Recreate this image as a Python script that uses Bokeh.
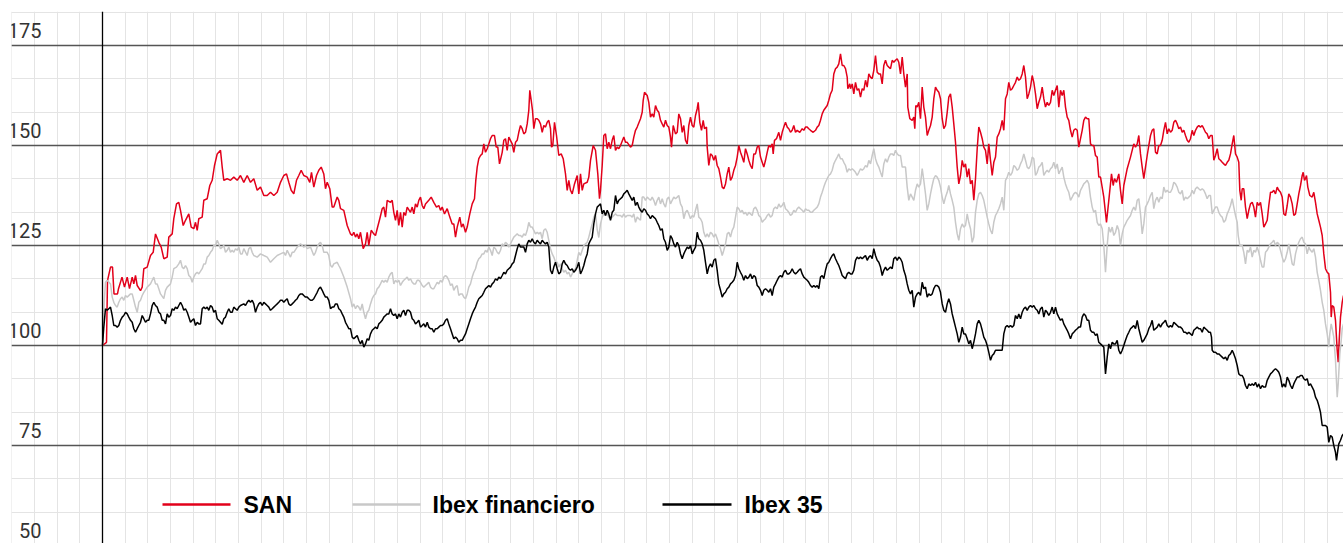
from bokeh.plotting import figure
from bokeh.models import Range1d, Grid, FixedTicker, Span, Label
from bokeh.embed import file_html
from bokeh.resources import INLINE

# ---------------- data (session index since base date, index base 100) ----------------
tick_values = [50, 75, 100, 125, 150, 175]
tick_labels = ["50", "75", "100", "125", "150", "175"]
series_names = ["SAN", "Ibex financiero", "Ibex 35"]
series_colors = ["#e2001a", "#c8c8c8", "#000000"]

san = [
(0,100),(4,100.8),(5,116.2),(8,119.6),(10,119.6),(11.5,112.9),(15,112.9),(16,114.2),(19.5,117.1),(22,114.6),(24.7,117.1),(27,114.2),(29.7,117.1),(31.3,115.4),(33,117.5),(34.7,115),(38,113.7),(39.7,114.6),(41.3,119.2),(44.7,119.6),(48,122.5),(50.7,123.3),(53,127.9),(56.3,125.8),(58.7,124.6),(61.3,121.7),(64.7,122.1),(66.3,127.1),(69.7,127.9),(71.3,131.7),(74,135.4),(76.3,135.8),(78,133.8),(80.7,130),(83,131.3),(86.3,132.9),(88.7,129.6),(91.3,129.2),(93,130.8),(94.7,128.8),(96.3,131.7),(99.7,132.1),(101.3,136.3),(104.7,136.7),(107.3,140),(109.7,141.3),(112,145),(114.7,147.9),(118,148.8),(119.7,144.6),(121.3,141.3),(124.7,141.7),(128,141.3),(131.3,142.1),(134.7,141.3),(138,142.5),(141.3,140.8),(144.7,142.5),(148,140.8),(151.3,141.7),(154.7,138.8),(158,139.6),(161.3,137.5),(164.7,137.5),(168,138.3),(171.3,137.5),(174.7,138.3),(178,140.8),(181.3,142.5),(184,142.9),(186.3,140.8),(188.7,138.8),(191.3,137.9),(194,141.3),(196.3,142.5),(198.7,143.8),(201.3,142.5),(204.7,142.1),(207.3,140.8),(209,143.3),(211.3,139.6),(214,142.5),(216.3,143.8),(218.7,144.6),(221.3,142.9),(223,139.2),(224.7,140.8),(227.3,139.2),(229.7,134.6),(231.3,134.6),(234.7,137.1),(236.3,136.3),(238,134.2),(241.3,133.8),(244.7,130),
(248,127.9),(249.7,127.5),(251.3,128.3),(253,127.1),(254.7,127.9),(256.3,126.7),(258,128.3),(260.7,124.2),(263,125.4),(264.7,128.3),(266.3,125),(268.7,128.8),(271.3,127.9),(273,127.5),(274.7,129.2),(277.3,131.7),(279.7,134.2),(281.3,134.6),(283,132.1),(284.7,136.3),(288,135.8),(289.7,136.3),(291.3,133.3),(293,131.3),(294.7,133.8),(296.3,130),(298,133.3),(299.7,129.6),(301.3,133.3),(303,132.5),(304.7,134.6),(308,133.3),(309.7,134.6),(311.3,132.9),(313,135.4),(314.7,134.6),(316.3,136.3),(318,137.1),(319.7,135),(321.3,134.2),(323,135.4),(326.3,136.3),(328.7,137.1),(331.3,135.8),(334,134.6),(336.3,135),(338,133.8),(339.7,134.6),(342,132.9),(344.7,134.2),(347.3,132.1),(349.7,130.4),(351.3,130.4),(353,127.1),(354.7,129.6),(357.3,132.1),(359,129.6),(360.7,130.4),(363,128.3),(364.7,129.6),(367.3,132.9),(369.7,135.4),(372,136.7),(373.3,141.3),(374.7,144.6),(376.3,146.7),(378,147.5),(379.7,147.9),(381.3,150.4),(383,148.3),(384.7,149.2),(386.3,150.4),(388,151.7),(389.7,152.5),(392,152.5),(393.7,149.6),(395.3,149.6),(397,145.4),(399.7,148.3),(401.3,151.3),(403,151.7),(404.7,148.8),(406.3,152.1),(409.7,150.4),(411.3,148.3),(413,150.8),(414.7,151.3),(416.3,153.3),(418,155),(419.7,154.2),(421.3,152.9),(423,153.3),(424.7,155.4),(426.3,158.8),(427.3,163.8),(428.7,161.3),(430,158.8),(431.3,154.2),(433,156.7),(434.7,156.7),(436.3,156.3),(438,155.4),(439.7,153.3),(441.3,155),(443,154.6),(444.7,155.8),(446.3,156.3),(448,154.2),(449,149.6),(450.3,150),(452,155.8),(454,152.5),(456.3,147.5),(458.7,147.9),(460.7,146.7),(463,142.9),(464.7,138.8),(466.3,141.3),(468,138.8),(469.7,137.9),(472,140.4),(474.7,142.5),(476.3,137.9),(478,142.9),(479.7,138.8),(481.3,140.4),(484.7,140.8),(486.3,142.1),(488,146.3),(490.7,150),(493,148.8),(495.3,142.9),(497,136.7),
(498,138.8),(499.7,145),(501.3,152.5),(503,152.9),(504.7,149.2),(506.3,150.8),(508,149.2),(509.7,151.3),(511.3,152.5),(513,148.8),(514.7,149.6),(516.3,149.2),(518,150),(521.3,152.1),(523,150.8),(524.7,150.8),(528,149.6),(529.7,150),(531.3,152.1),(533,153.8),(534.7,154.6),(538,156.7),(539.7,158.3),(540.7,161.3),(542,163.3),(544.7,162.5),(546.3,160.8),(548,157.1),(549.7,157.9),(551.3,157.1),(553,160),(554.7,158.8),(556.3,158.3),(558,156.3),(559.7,155.4),(561.3,154.6),(563,156.3),(564.7,155),(566.3,154.6),(568,152.1),(569,149.6),(570.7,155),(573,152.9),(574.7,153.3),(576.3,157.9),(578,156.7),(579.7,153.3),(581.3,155),(583,151.3),(584.7,150.4),(586.3,155),(588,157.1),(589.7,155),(591.3,154.6),(593,157.5),(594.7,159.2),(595.7,160.8),(597.3,155.8),(599,153.8),(600.7,156.3),(602,154.2),(604,154.6),(604.7,149.6),(606.3,145),(608,147.9),(609.7,147.5),(611.3,146.3),(613,147.5),(614.7,145),(616.3,144.2),(618,142.1),(619.7,139.6),(621.3,139.2),(623,140.4),(624.7,142.9),(626.3,144.6),(628,141.3),(629.7,142.1),(631.3,143.8),(633,145),(634.7,147.1),(636.3,150),(638,148.3),(639.7,147.1),(641.3,145.8),(643,149.2),(644.7,147.9),(646.3,146.3),(648,145),(649.7,144.2),(651.3,147.9),(653,147.9),(654.7,149.6),(656.3,150),(658,147.1),(659.7,145.8),(661.3,144.6),(663,146.3),(664.7,148.3),(666.3,150),(668,149.6),(669.7,150.4),(670.7,147.9),(672,151.3),(674,151.7),(676.3,153.3),(678,151.3),(679.7,153.3),(681.3,154.6),(683,155.8),(684.7,154.6),(686.3,154.2),(688,153.3),(689.7,153.8),(691.3,155),(693,153.3),(694.7,153.8),(697.3,153.3),(699.7,154.2),(701.3,153.8),(703,154.6),(704.7,154.6),(706.3,154.2),(708,153.8),(710.7,153.3),(713,153.8),(714.7,154.6),(716.3,155),(718,156.3),(719.7,157.9),(721.3,158.8),(724.7,160),(726.3,161.3),(728,162.9),(729.7,163.8),(731.3,167.9),(733,169.2),(734.7,169.6),(736.3,170.4),(738,172.9),(739.7,170),(741.3,170),(743,169.2),(744.7,167.1),(745.3,164.2),(747.3,165.4),
(748,164.2),(749.7,165.4),(751.3,162.9),(753,165.8),(754.7,163.8),(756.3,164.2),(758,162.1),(759.7,164.2),(761.3,163.8),(763,166.3),(764.7,164.6),(766.3,167.9),(768,167.1),(769.7,166.7),(771.3,168.8),(773,172.5),(774.7,168.3),(776.3,167.9),(778,167.9),(779.7,165.4),(781.3,170),(783,171.3),(784.7,170),(786.3,169.6),(788,169.2),(789.7,171.3),(791.3,170.8),(793,171.3),(794.7,171.7),(796.3,170.8),(798,167.9),(799.7,172.1),(801.3,167.9),(803,164.6),(804.7,167.9),(805.3,159.6),(807.3,156.7),(809.7,156.3),(811.3,157.1),(812.3,154.2),(813.3,160),(814.7,159.6),(816.3,160.8),(818,156.7),(819.7,164.6),(821.3,159.6),(823,157.1),(824.7,152.5),(826.3,153.8),(828,155),(829.7,157.1),(831.3,161.7),(833,164.6),(834.7,163.8),(836.3,163.3),(838,161.7),(839.7,156.7),(841.3,154.2),(843,155),(844.7,158.3),(846.3,162.1),(848,162.9),(849.7,159.6),(851.3,155.4),(853,150.8),(854.7,144.6),(856.3,140.4),(858,142.5),(859.7,146.3),(861.3,144.6),(863,145.4),(864.7,142.1),(866.3,144.2),(868,140.4),(869.7,141.3),(871.3,136.3),(873,141.7),(874.7,149.2),(876.3,154.6),(878,153.3),(879.7,151.7),(881.3,149.6),(883,148.8),(884.7,145.4),(886.3,150.4),(888,146.3),(889.7,142.5),(891.3,145.8),(893,147.1),(894.7,152.1),(896.3,152.9),(898,154.2),(899.7,156.3),(901.3,153.8),(903,161.7),(904.7,162.9),(906.3,165.8),(908,163.8),(909.7,164.2),(911.3,165),(913,165.8),(914.7,167.1),(916.3,166.3),(918,166.7),(919.7,167.9),(921.3,170),(923,167.1),(924.7,161.7),(926.3,162.9),(928,164.6),(929.7,167.5),(931.3,165.8),(933,162.9),(934.7,159.2),(936.3,160.8),(938,162.1),(939.7,164.6),(941.3,161.7),(943,159.6),(944.7,160.8),(946.3,160),(948,160.8),(949.7,163.8),(951.3,162.5),(953,163.8),(954.7,165),(956.3,159.6),(958,163.8),(959.7,162.5),(961.3,163.8),(963,159.6),(964.7,157.1),(966.3,156.3),(968,153.8),(969.7,152.1),(971.3,153.8),(973,154.2),(974.7,153.8),(976.3,149.6),(978,151.7),(979.7,153.8),(981.3,156.3),(983,157.1),(984.7,156.7),(986.3,156.7),(988,150.4),(989.7,150),(991.3,150),(993,147.5),(994.7,147.1),(996.3,142.1),
(998,142.1),(1001.3,137.1),(1004,130.8),(1006.3,136.3),(1009,142.9),(1010.7,140),(1012,141.7),(1014,140.8),(1016.3,142.9),(1018,138.8),(1019.7,135.4),(1021.3,140),(1024.7,144.2),(1028,147.1),(1031.3,150.4),(1033,149.6),(1034.7,150.4),(1036.3,152.5),(1038,147.9),(1039.7,144.6),(1041.3,141.7),(1043,144.6),(1044.7,147.5),(1046.3,150),(1048,152.5),(1049.7,153.8),(1051.3,154.2),(1053,148.3),(1054.7,147.9),(1056.3,150),(1058,150),(1059.7,151.3),(1061.3,153.8),(1063,155.8),(1064.7,152.9),(1066.3,154.2),(1068,153.3),(1069.7,153.8),(1071.3,155.8),(1073,156.3),(1074.7,155.4),(1076.3,154.2),(1078,154.6),(1079.7,153.3),(1081.3,153.8),(1083,152.5),(1084.7,151.3),(1086.3,150.8),(1088,151.7),(1089.7,153.8),(1091.3,152.5),(1093,153.8),(1094.7,154.6),(1096.3,155),(1098,154.6),(1099.7,155),(1101.3,154.2),(1103,153.3),(1104.7,152.9),(1106.3,151.7),(1108,152.5),(1109.7,152.5),(1111.3,146.3),(1113,147.5),(1114.7,149.2),(1116.3,146.7),(1118,146.3),(1119.7,145.8),(1121.3,145.4),(1123,145),(1124.7,145.8),(1126.3,146.3),(1128,147.9),(1129.7,150.4),(1131.3,152.5),(1133,147.9),(1134.7,147.1),(1136.3,145.8),(1137.3,138.8),(1138.7,136.3),(1139.7,139.2),(1141.3,139.2),(1143,134.6),(1144.7,131.7),(1146.3,133.8),(1148,135.4),(1149.7,135.8),(1151.3,134.6),(1153,132.1),(1154.7,135.8),(1156.3,135),(1158,135.8),(1159.7,132.9),(1161.3,129.6),(1163,130.4),(1164.7,131.3),(1166.3,135),(1168,138.3),(1169.7,138.3),(1171.3,138.8),(1173,137.9),(1174.7,139.6),(1176.3,138.8),(1178,138.3),(1179.7,137.1),(1181.3,132.9),(1183,132.5),(1184.7,135),(1186.3,137.9),(1188,137.1),(1189.7,135.4),(1191.3,132.5),(1193,132.9),(1194.7,135.4),(1196.3,137.9),(1198,140),(1199.7,142.5),(1200.7,143.3),(1202,141.3),(1203,141.7),(1204,142.5),(1205.3,139.6),(1207.3,137.5),(1209.7,137.1),(1211.3,138.3),(1213,135.8),(1214.7,132.9),(1216.3,131.3),(1218,129.6),(1219.7,127.5),(1221.3,122.9),(1223,119.2),(1224.7,118.3),(1226.3,117.9),(1228,113.3),(1228.7,107.1),(1229.7,110),(1231.3,109.6),(1233,106.3),(1234.7,98.8),(1235.7,95.8),(1236.7,101.3),(1238,107.1),(1239.7,110.8),(1241,112.5),
]

ibex_fin = [
(0,100),(2,112),(3,115.8),(4.7,116.3),(8,115.4),(9.7,112.1),(11.3,110.8),(13,110),(14.7,109.6),(16.3,110.8),(18,111.7),(19.7,112.1),(21.3,111.3),(23,112.5),(24.7,112.1),(28,112.9),(29.7,112.9),(31.3,111.3),(33,109.6),(34.7,108.3),(36.3,110.8),(38,111.3),(39.7,112.5),(41.3,113.3),(44.7,114.6),(48,115.4),(49.7,116.3),(51.3,117.1),(53,115.4),(54.7,115.4),(56.3,114.2),(58,112.9),(61.3,111.7),(63,113.8),(64.7,114.6),(68,115.4),(69.7,117.1),(71.3,119.2),(74,119.6),(76.3,120.4),(78,121.3),(79.7,119.6),(81.3,119.2),(83,120),(84.7,119.2),(86.3,117.5),(88,117.1),(89.7,115.8),(91.3,117.1),(93,117.9),(94.7,118.3),(96.3,117.9),(99.7,119.2),(101.3,120.4),(103,120.4),(104.7,122.1),(106.3,122.5),(108,123.3),(109.7,123.8),(111.3,125),(113,125),(114.7,126.3),(116.3,125.4),(118,124.2),(119.7,124.6),(121.3,125),(123,123.3),(124.7,123.8),(126.3,124.6),(128,123.3),(129.7,123.8),(131.3,123.3),(133,124.2),(134.7,123.8),(136.3,124.6),(138,122.9),(139.7,122.9),(141.3,124.2),(144.7,122.5),(146.3,124.2),(148,124.6),(149.7,123.3),(151.3,122.5),(154.7,122.1),(158,122.9),(161.3,122.5),(164.7,122.1),(168,120.8),(171.3,121.7),(174.7,122.5),(178,122.9),(181.3,123.3),(183,122.5),(184.7,123.8),(188,122.1),(189.7,123.3),(191.3,123.3),(194.7,124.6),(198,125.4),(199.7,125),(201.3,124.6),(203,125),(204.7,124.2),(208,124.6),(211.3,122.5),(213,123.3),(214.7,124.6),(216.3,125.4),(218,125.8),(219.7,125),(221.3,123.3),(224.7,123.3),(226.3,122.5),(228,120),(229.7,119.6),(231.3,120.4),(234.7,120.8),(236.3,120),(238,119.2),(241.3,117.1),(244.7,114.6),
(248,111.7),(249.7,109.6),(251.3,110.4),(253,109.2),(254.7,110),(256.3,109.6),(258,108.8),(259.7,110.4),(261.3,108.3),(263,106.7),(264.7,108.3),(266.3,108.8),(268,110.4),(269.7,111.7),(271.3,112.5),(273,112.9),(274.7,114.2),(276.3,114.6),(278,115.4),(279.7,116.3),(281.3,115.8),(283,116.3),(284.7,115.8),(286.3,117.1),(288,117.9),(289.7,118.3),(291.3,115.4),(293,116.3),(294.7,115.8),(296.3,116.3),(298,115),(299.7,115.8),(301.3,116.3),(303,116.7),(304.7,117.1),(306.3,116.3),(308,116.7),(309.7,115.8),(311.3,115.4),(313,115.4),(314.7,116.3),(316.3,116.3),(318,115.8),(319.7,115),(321.3,114.6),(323,115),(324.7,115.4),(326.3,115.8),(328,114.6),(329.7,114.2),(331.3,114.2),(333,115),(334.7,115.8),(336.3,115.4),(338,116.3),(339.7,115.8),(341.3,117.1),(343,117.5),(344.7,117.1),(346.3,116.3),(348,115),(349.7,115.4),(351.3,113.8),(353,114.6),(354.7,115),(356.3,112.5),(358,112.9),(359.7,112.9),(361.3,112.1),(363,111.7),(364.7,112.9),(366.3,114.6),(368,115.4),(369.7,117.1),(371.3,118.3),(373,119.2),(374.7,120.8),(376.3,121.7),(378,122.1),(379.7,122.9),(381.3,122.9),(383,123.8),(384.7,123.3),(386.3,124.6),(388,123.8),(389.7,122.5),(391.3,124.6),(393,124.2),(394.7,123.3),(396.3,122.9),(398,123.8),(399.7,125.4),(401.3,125),(403,125.8),(404.7,125.4),(406.3,124.6),(408,125.4),(409.7,126.3),(411.3,127.1),(413,127.5),(414.7,127.9),(416.3,127.5),(418,127.5),(419.7,127.1),(421.3,127.9),(423,127.5),(424.7,128.8),(426.3,130.8),(428,129.6),(429.7,129.6),(431.3,128.8),(433,127.9),(434.7,128.3),(436.3,127.9),(438,128.3),(439.7,126.7),(441.3,128.8),(443,129.2),(444.7,128.3),(446.3,126.3),(448,124.2),(449.7,122.9),(451.3,122.1),(453,120.8),(454.7,120.8),(456.3,119.6),(458,120.4),(459.7,119.2),(461.3,118.3),(463,118.8),(464.7,117.9),(466.3,118.3),(468,117.1),(469.7,117.9),(471.3,118.8),(473,119.2),(474.7,121.3),(476.3,123.3),(478,122.5),(479.7,123.8),(481.3,125),(483,125.4),(484.7,125.8),(486.3,127.1),(488,128.8),(489.7,130.4),(491.3,132.1),(493,132.9),(494.7,129),(496.3,127),
(498,130.4),(499.7,132.1),(501.3,132.9),(503,132.5),(504.7,132.9),(506.3,132.1),(508,131.7),(509.7,132.1),(511.3,132.5),(513,132.9),(514.7,132.5),(518,132.5),(519.7,132.1),(521.3,132.9),(523,132.1),(524.7,132.5),(528,132.5),(529.7,132.1),(531.3,132.9),(533,130.8),(534.7,132.1),(536.3,131.7),(538,131.3),(539.7,137.1),(541.3,137.1),(543,136.3),(544.7,137.1),(546.3,136.7),(548,136.3),(549.7,137.1),(551.3,136.3),(553,135),(554.7,136.3),(556.3,137.1),(558,135.4),(559.7,136.7),(561.3,135.4),(563,134.6),(564.7,136.7),(566.3,137.1),(568,135.4),(569.7,136.3),(571.3,137.1),(573,136.7),(574.7,137.1),(576.3,137.5),(578,135.4),(579.7,134.6),(581.3,131.7),(583,133.3),(584.7,133.8),(586.3,132.9),(588,131.7),(589.7,132.5),(591.3,132.1),(593,133.8),(594.7,135.4),(596.3,132.1),(598,131.7),(599.7,130.8),(601.3,128.3),(603,127.1),(604.7,127.9),(606.3,127.1),(608,128.3),(609.7,127.9),(611.3,127.1),(613,127.9),(614.7,126.7),(616.3,125.4),(618,124.2),(619.7,122.5),(621.3,123.8),(623,125.4),(624.7,127.9),(626.3,128.3),(628,127.1),(629.7,128.8),(631.3,129.6),(633,132.1),(634.7,134.6),(636.3,134.2),(638,133.3),(639.7,133.8),(641.3,132.9),(643,133.3),(644.7,132.5),(646.3,133.3),(648,132.9),(649.7,132.5),(651.3,134.2),(653,134.6),(654.7,133.8),(656.3,132.5),(658,132.1),(659.7,130.8),(661.3,131.3),(663,131.7),(664.7,132.5),(666.3,132.9),(668,132.1),(669.7,132.5),(671.3,134.2),(673,134.6),(674.7,134.2),(676.3,135.4),(678,134.6),(679.7,135),(681.3,135.8),(683,134.2),(684.7,133.8),(686.3,133.3),(688,132.5),(689.7,132.9),(691.3,133.8),(693,133.3),(694.7,134.2),(696.3,134.6),(698,134.2),(699.7,133.8),(701.3,133.3),(703,134.2),(704.7,133.8),(706.3,133.8),(708,133.3),(709.7,133.3),(711.3,133.8),(713,134.2),(714.7,134.6),(716.3,135.4),(718,137.1),(719.7,138.3),(721.3,139.6),(723,140.8),(724.7,141.7),(726.3,142.5),(728,142.9),(729.7,143.8),(731.3,145.4),(733,146.3),(734.7,147.1),(736.3,147.9),(738,146.7),(739.7,146.7),(741.3,145.8),(743,145),(744.7,143.3),(746.3,144.2),
(748,143.8),(749.7,144.2),(751.3,143.8),(753,143.3),(754.7,142.5),(756.3,143.3),(758,144.2),(759.7,143.8),(761.3,144.2),(763,145),(764.7,144.6),(766.3,146.3),(768,145.4),(769.7,147.5),(771.3,149.2),(773,146.7),(774.7,145.4),(776.3,144.6),(778,143.3),(779.7,142.1),(781.3,145.4),(783,146.7),(784.7,145.8),(786.3,147.1),(788,147.9),(789.7,147.9),(791.3,147.5),(793,148.8),(794.7,147.9),(796.3,147.5),(798,147.5),(799.7,144.6),(801.3,144.6),(803,144.6),(804.7,139.6),(806.3,136.3),(808,137.9),(809.7,137.1),(811.3,136.3),(813,138.8),(814.7,140.4),(816.3,139.6),(818,140.4),(819.7,144.2),(821.3,141.3),(823,137.9),(824.7,133.8),(826.3,135.4),(828,137.9),(829.7,140),(831.3,141.7),(833,142.5),(834.7,142.1),(836.3,141.3),(838,139.6),(839.7,137.1),(841.3,135.4),(843,137.1),(844.7,138.3),(846.3,140),(848,137.9),(849.7,136.3),(851.3,134.6),(853,130.8),(854.7,127.9),(856.3,126.3),(858,129.2),(859.7,130.4),(861.3,129.6),(863,130),(864.7,132.9),(866.3,130.8),(868,129.2),(869.7,125.8),(871.3,127.1),(873,133.3),(874.7,136.3),(876.3,137.9),(878,138.3),(879.7,137.5),(881.3,136.3),(883,134.2),(884.7,132.1),(886.3,130.4),(888,128.8),(889.7,127.9),(891.3,130.8),(893,132.5),(894.7,133.3),(896.3,134.2),(898,135.4),(899.7,137.1),(901.3,133.8),(903,141.3),(904.7,142.1),(906.3,143.3),(908,142.5),(909.7,143.3),(911.3,145),(913,144.6),(914.7,143.8),(916.3,144.2),(918,145.4),(919.7,146.3),(921.3,147.9),(923,146.3),(924.7,144.6),(926.3,144.2),(928,145),(929.7,147.1),(931.3,146.7),(933,142.5),(934.7,143.3),(936.3,144.6),(938,145),(939.7,145.8),(941.3,142.5),(943,143.3),(944.7,143.8),(946.3,143.3),(948,144.2),(949.7,144.6),(951.3,145.8),(953,144.2),(954.7,145.4),(956.3,142.9),(958,143.8),(959.7,144.6),(961.3,142.1),(963,140.4),(964.7,139.2),(966.3,138.3),(968,136.3),(969.7,137.1),(971.3,137.9),(973,138.3),(974.7,137.9),(976.3,137.1),(978,138.8),(979.7,139.6),(981.3,140.4),(983,140.8),(984.7,141.3),(986.3,140.4),(988,137.1),(989.7,134.6),(991.3,133.3),(993,133.8),(994.7,130.8),(996.3,130),
(998,130.4),(999.7,129.2),(1001.3,125),(1003,118.3),(1004.7,125),(1006.3,129.6),(1008,128.3),(1009.7,129.6),(1011.3,127.5),(1013,128.3),(1014.7,130),(1016.3,128.8),(1018,125),(1019.7,127.9),(1021.3,129.6),(1023,130.4),(1024.7,131.3),(1028,132.5),(1029.7,133.8),(1031.3,134.6),(1033,133.8),(1034.7,136.3),(1036.3,136.7),(1038,132.9),(1039.7,127.9),(1041.3,130.4),(1043,134.6),(1044.7,135.4),(1046.3,136.3),(1048,137.5),(1049.7,138.3),(1051.3,134.2),(1053,136.3),(1054.7,137.1),(1056.3,135.8),(1058,137.1),(1059.7,136.7),(1061.3,139.6),(1063,138.3),(1064.7,138.8),(1066.3,138.3),(1068,138.3),(1069.7,139.2),(1071.3,140.8),(1073,140.4),(1074.7,139.6),(1076.3,138.3),(1078,137.9),(1079.7,138.8),(1081.3,136.3),(1083,137.1),(1084.7,136.7),(1086.3,137.1),(1088,137.5),(1089.7,138.8),(1091.3,137.9),(1093,139.2),(1094.7,139.6),(1096.3,139.2),(1098,138.8),(1099.7,139.2),(1101.3,138.8),(1103,137.9),(1104.7,136.7),(1106.3,137.5),(1108,137.5),(1109.7,132.9),(1111.3,133.8),(1113,134.6),(1114.7,134.6),(1116.3,133.3),(1118,132.5),(1119.7,132.1),(1121.3,130.8),(1123,131.3),(1124.7,132.9),(1126.3,133.8),(1128,135),(1129.7,136.7),(1131.3,134.6),(1133,132.5),(1134.7,130.8),(1135.7,127.5),(1137.3,125),(1139.7,125),(1141.3,123.3),(1143,120.4),(1144.7,123.8),(1146.3,123.3),(1148,124.6),(1149.7,122.1),(1151.3,123.8),(1153,123.3),(1154.7,124.6),(1156.3,123.3),(1158,121.3),(1159.7,119.6),(1161.3,119.6),(1163,123.3),(1164.7,123.8),(1166.3,124.6),(1168,125.4),(1169.7,125.8),(1171.3,126.3),(1173,125),(1174.7,125.8),(1176.3,125.4),(1178,123.8),(1179.7,122.1),(1181.3,120.8),(1183,121.7),(1184.7,123.3),(1186.3,125.4),(1188,122.9),(1189.7,120.4),(1191.3,120),(1193,122.9),(1194.7,124.6),(1196.3,125.8),(1198,126.7),(1199.7,127.1),(1201.3,125.8),(1203,125.4),(1204.7,122.9),(1206.3,124.6),(1208,123.8),(1209.7,123.3),(1211.3,124.2),(1213,122.1),(1214.7,118.3),(1216.3,116.3),(1218,113.8),(1219.7,110.8),(1221.3,108.8),(1223,105.4),(1224.7,102.9),(1226.3,99.6),(1227.3,102.9),(1228.7,105.4),(1229.7,104.2),(1231.3,102.1),(1233,96.3),(1234.7,87.1),(1235.7,90.4),(1237.3,97.9),(1238.7,101.3),(1239.7,104.2),(1241,105.4),
]

ibex35 = [
(0,100),(1.3,104.6),(3,109.2),(4.7,108.8),(6.3,109.2),(8,109.6),(9.7,107.5),(11.3,105),(13,105),(14.7,104.6),(16.3,105),(18,106.3),(19.7,107.1),(21.3,107.5),(23,108.3),(24.7,107.9),(26.3,107.1),(28,106.3),(29.7,105.8),(31.3,104.2),(33,103.3),(34.7,104.2),(36.3,105),(38,105.8),(39.7,107.5),(41.3,106.7),(43,105.8),(44.7,106.3),(46.3,106.3),(48,107.9),(49.7,110),(51.3,110.8),(53,110),(54.7,109.6),(56.3,108.3),(58,107.9),(59.7,106.3),(61.3,106.3),(63,105.4),(64.7,107.9),(66.3,107.1),(68,107.5),(69.7,109.2),(71.3,108.8),(73,109.6),(74.7,109.2),(76.3,110),(78,110.8),(79.7,110),(81.3,108.8),(83,109.2),(84.7,108.3),(86.3,107.1),(88,105.8),(89.7,106.3),(91.3,106.7),(93,105),(94.7,105.8),(96.3,105.4),(98,105.4),(99.7,109.2),(101.3,109.6),(103,109.2),(104.7,109.6),(106.3,108.8),(108,110),(109.7,109.6),(111.3,108.3),(113,108.8),(114.7,106.7),(116.3,106.3),(118,105.8),(119.7,105.3),(121.3,106.7),(123,107.1),(124.7,108.3),(126.3,109.2),(128,108.3),(129.7,108.3),(131.3,109.6),(133,109.2),(134.7,108.8),(136.3,109.6),(138,110),(141.3,110.4),(143,110),(144.7,110.8),(146.3,111.3),(148,110.8),(149.7,111.3),(151.3,110.4),(153,108.3),(154.7,109.6),(156.3,110.4),(158,110.8),(159.7,110),(161.3,110.8),(163,110.4),(164.7,110),(166.3,109.6),(168,108.8),(169.7,109.2),(171.3,109.6),(173,110),(174.7,110.4),(176.3,110.8),(178,111.3),(179.7,111.3),(181.3,110.8),(183,111.3),(184.7,111.7),(186.3,110.4),(188,110),(189.7,110.4),(191.3,110.8),(193,111.3),(194.7,111.7),(196.3,112.5),(198,112.9),(199.7,112.9),(201.3,112.5),(203,112.1),(204.7,112.1),(206.3,111.7),(208,111.3),(209.7,111.3),(211.3,111.7),(213,112.5),(214.7,113.3),(216.3,114.2),(218,114.6),(219.7,113.8),(221.3,112.9),(223,112.1),(224.7,112.1),(226.3,111.3),(228,109.2),(229.7,109.6),(231.3,109.6),(233,110.4),(234.7,110.4),(236.3,109.2),(238,108.8),(239.7,107.9),(241.3,107.1),(243,105.8),(244.7,105),(246.3,104.2),
(248,104.2),(249.7,102.1),(251.3,101.7),(253,102.1),(254.7,102.5),(256.3,101.3),(258,100.4),(259.7,101.3),(261.3,99.6),(263,100.4),(264.7,101.7),(266.3,101.3),(268,102.9),(269.7,103.8),(271.3,104.2),(273,104.6),(274.7,104.2),(276.3,105.4),(278,105.8),(279.7,106.3),(281.3,107.1),(283,107.5),(284.7,107.9),(286.3,107.9),(288,109.2),(289.7,107.9),(291.3,107.5),(293,107.9),(294.7,106.7),(296.3,107.9),(298,107.1),(299.7,108.3),(301.3,108.8),(303,107.5),(304.7,108.8),(306.3,108.8),(308,108.3),(309.7,106.7),(311.3,106.3),(313,105.4),(314.7,105.8),(316.3,106.3),(318,104.6),(319.7,105),(321.3,105.4),(323,104.6),(324.7,105.8),(326.3,104.6),(328,104.2),(329.7,104.2),(331.3,103.3),(333,104.2),(334.7,104.2),(336.3,104.6),(338,105),(339.7,105),(341.3,105.4),(343,106.3),(344.7,106.7),(346.3,105.4),(348,104.2),(349.7,102.9),(351.3,101.7),(353,102.1),(354.7,101.7),(356.3,100.8),(358,101.3),(359.7,101.3),(361.3,102.1),(363,102.9),(364.7,104.2),(366.3,105.4),(368,106.7),(369.7,107.9),(371.3,108.8),(373,109.6),(374.7,110.8),(376.3,111.7),(378,112.1),(379.7,112.5),(381.3,113.3),(383,114.2),(384.7,114.6),(386.3,115),(388,114.6),(389.7,115.4),(391.3,115.8),(393,116.7),(394.7,116.3),(396.3,117.1),(398,116.7),(399.7,117.5),(401.3,118.3),(403,117.9),(404.7,118.8),(406.3,119.2),(408,119.6),(409.7,120.4),(411.3,120.8),(413,122.5),(414.7,124.2),(416.3,125.4),(418,124.6),(419.7,124.6),(421.3,124.6),(423,123.3),(424.7,125.4),(426.3,126.3),(428,125.8),(429.7,126.7),(431.3,125.8),(433,125.4),(434.7,126.3),(436.3,125.8),(438,125.4),(439.7,126.3),(441.3,125.8),(443,125.4),(444.7,125.8),(446.3,124.6),(448,118.8),(449.7,117.9),(451.3,119.6),(453,120.8),(454.7,119.2),(456.3,117.9),(458,118.3),(459.7,120.4),(461.3,121.3),(463,120.4),(464.7,120),(466.3,119.2),(468,118.8),(469.7,119.2),(471.3,118.3),(473,118.8),(474.7,119.6),(476.3,120.8),(478,117.9),(479.7,118.8),(481.3,120),(483,121.7),(484.7,122.9),(486.3,125.4),(488,126.3),(489.7,127.1),(491.3,130.4),(493,132.9),(494.7,134.6),(496.3,135),
(498,135.4),(499.7,132.9),(501.3,133.8),(503,132.5),(504.7,133.8),(506.3,132.9),(508,131.3),(509.7,133.3),(511.3,133.8),(513,137.5),(514.7,135.4),(516.3,136.3),(518,136.7),(519.7,137.1),(521.3,137.9),(523,138.3),(524.7,138.8),(526.3,137.9),(528,137.1),(529.7,136.3),(531.3,137.1),(533,135),(534.7,135.8),(536.3,134.6),(538,133.8),(539.7,133.3),(541.3,134.2),(543,133.8),(544.7,132.9),(546.3,132.5),(548,131.7),(549.7,132.5),(551.3,132.1),(553,131.7),(554.7,130.8),(556.3,130),(558,128.8),(559.7,129.2),(561.3,126.7),(563,125.8),(564.7,123.8),(566.3,124.6),(568,127.5),(569.7,126.7),(571.3,125.4),(573,124.6),(574.7,125.8),(576.3,125),(578,122.9),(579.7,121.7),(581.3,122.9),(583,123.8),(584.7,124.6),(586.3,124.2),(588,125),(589.7,122.9),(591.3,123.8),(593,124.6),(594.7,128.3),(596.3,126.7),(598,126.3),(599.7,125.4),(601.3,123.8),(603,120.8),(604.7,117.9),(606.3,119.6),(608,120.4),(609.7,119.6),(611.3,121.3),(613,121.7),(614.7,118.8),(616.3,115.4),(618,113.8),(619.7,112.1),(621.3,112.9),(623,113.3),(624.7,114.2),(626.3,114.6),(628,115.4),(629.7,115.8),(631.3,116.3),(633,117.5),(634.7,120.8),(636.3,119.2),(638,118.3),(639.7,117.5),(641.3,116.3),(643,117.5),(644.7,116.7),(646.3,117.1),(648,117.9),(649.7,116.7),(651.3,117.5),(653,117.1),(654.7,115),(656.3,114.6),(658,113.8),(659.7,112.5),(661.3,113.8),(663,114.2),(664.7,113.8),(666.3,113.3),(668,114.2),(669.7,112.5),(671.3,114.6),(673,115.4),(674.7,116.3),(676.3,117.1),(678,117.5),(679.7,117.1),(681.3,118.3),(683,118.8),(684.7,117.9),(686.3,117.9),(688,118.3),(689.7,119.2),(691.3,118.3),(693,117.9),(694.7,118.3),(696.3,118.8),(698,119.2),(699.7,117.9),(701.3,117.1),(703,116.7),(704.7,116.3),(706.3,115.8),(708,115),(709.7,114.6),(711.3,115),(713,114.6),(714.7,115),(716.3,114.2),(718,117.1),(719.7,117.5),(721.3,116.7),(723,118.8),(724.7,120.4),(726.3,120.8),(728,121.7),(729.7,122.5),(731.3,122.9),(733,121.7),(734.7,120.8),(736.3,120),(738,118.8),(739.7,117.5),(741.3,117.1),(743,116.7),(744.7,117.9),(746.3,118.3),
(748,117.9),(749.7,117.9),(751.3,118.8),(753,121.3),(754.7,122.1),(756.3,121.7),(758,122.1),(759.7,121.7),(761.3,122.1),(763,122.5),(764.7,121.3),(766.3,122.1),(768,122.5),(769.7,121.7),(771.3,124.2),(773,122.5),(774.7,121.3),(776.3,120.8),(778,119.6),(779.7,117.5),(781.3,118.8),(783,119.6),(784.7,118.8),(786.3,119.2),(788,119.6),(789.7,119.2),(791.3,121.7),(793,122.1),(794.7,121.3),(796.3,122.1),(798,121.7),(799.7,120.8),(801.3,118.8),(803,117.5),(804.7,115.4),(806.3,113.8),(808,112.9),(809.7,113.8),(811.3,109.6),(813,112.1),(814.7,112.9),(816.3,113.3),(818,112.5),(819.7,115.8),(821.3,114.2),(823,114.6),(824.7,112.1),(826.3,112.9),(828,112.5),(829.7,112.9),(831.3,114.2),(833,115),(834.7,115),(836.3,114.6),(838,113.3),(839.7,110.4),(841.3,108.8),(843,108.3),(844.7,110.4),(846.3,111.7),(848,110.4),(849.7,107.9),(851.3,106.3),(853,104.6),(854.7,102.9),(856.3,100.8),(858,102.1),(859.7,104.6),(861.3,102.9),(863,102.9),(864.7,101.7),(866.3,100.4),(868,101.3),(869.7,99.2),(871.3,100.8),(873,102.9),(874.7,105.4),(876.3,106.3),(878,105.4),(879.7,103.8),(881.3,102.1),(883,101.3),(884.7,100),(886.3,98.3),(888,96.3),(889.7,97.5),(891.3,97.9),(893,98.8),(894.7,98.8),(898,98.8),(899.7,98.8),(901.3,102.9),(903,104.6),(904.7,105),(906.3,104.6),(908,105),(909.7,104.6),(911.3,105),(913,107.5),(914.7,106.7),(916.3,107.9),(918,106.7),(919.7,108.3),(921.3,109.2),(923,109.6),(924.7,108.8),(926.3,109.6),(928,110),(929.7,109.6),(931.3,110),(933,109.2),(934.7,108.8),(936.3,107.9),(938,109.2),(939.7,109.6),(941.3,107.1),(943,108.8),(944.7,108.3),(946.3,107.5),(948,108.3),(949.7,109.6),(951.3,107.9),(953,109.6),(954.7,107.9),(956.3,107.1),(958,106.3),(959.7,106.7),(961.3,105.4),(963,104.6),(964.7,103.8),(966.3,102.9),(968,101.7),(969.7,102.9),(971.3,103.3),(973,103.8),(974.7,104.2),(976.3,104.6),(978,104.6),(979.7,107.1),(981.3,107.9),(983,107.5),(984.7,106.3),(986.3,106.3),(988,103.8),(989.7,103.3),(991.3,103.3),(993,102.5),(994.7,102.9),(996.3,100.8),
(998,100.4),(1001.3,99.6),(1003,92.9),(1004.7,97.1),(1006.3,100.4),(1008,99.2),(1009.7,100.8),(1011.3,100.4),(1013,100.4),(1014.7,101.3),(1016.3,98.8),(1018,97.9),(1019.7,98.8),(1021.3,100),(1023,101.3),(1024.7,102.5),(1026.3,103.3),(1028,104.2),(1029.7,104.6),(1031.3,105),(1033,104.2),(1034.7,106.3),(1036.3,104.2),(1038,102.5),(1039.7,100.8),(1041.3,101.3),(1043,102.1),(1044.7,102.9),(1046.3,104.2),(1048,105),(1049.7,106.3),(1051.3,103.8),(1053,104.2),(1054.7,104.6),(1056.3,105.4),(1058,104.6),(1059.7,105.4),(1061.3,105.8),(1063,106.3),(1064.7,105),(1066.3,104.6),(1068,105),(1069.7,104.6),(1071.3,105.8),(1073,105.4),(1074.7,105),(1076.3,104.6),(1078,104.6),(1079.7,104.2),(1081.3,103.3),(1083,103.3),(1084.7,102.9),(1086.3,103.3),(1088,102.9),(1089.7,102.5),(1091.3,103.8),(1093,104.2),(1094.7,104.6),(1096.3,104.2),(1098,104.2),(1099.7,103.3),(1101.3,104.6),(1103,104.2),(1104.7,103.8),(1106.3,103.3),(1108,103.3),(1109,102.1),(1109.7,98.8),(1111.3,98.3),(1113,98.3),(1114.7,97.9),(1116.3,97.9),(1118,97.5),(1119.7,97.1),(1121.3,96.7),(1123,97.1),(1124.7,96.3),(1126.3,97.5),(1128,97.9),(1129.7,98.8),(1131.3,97.9),(1133,96.7),(1134.7,95),(1136.3,92.9),(1138,92.5),(1139.7,92.5),(1141.3,91.7),(1143,90),(1144.7,89.2),(1146.3,90.4),(1148,90),(1149.7,90.4),(1151.3,90),(1153,90.8),(1154.7,89.6),(1156.3,90.4),(1158,89.2),(1159.7,90),(1161.3,89.6),(1163,89.6),(1164.7,91.3),(1166.3,92.1),(1168,92.9),(1169.7,93.3),(1171.3,93.8),(1173,94.2),(1174.7,93.8),(1176.3,93.3),(1178,92.1),(1179.7,89.6),(1181.3,90.4),(1183,89.6),(1184.7,92.1),(1186.3,91.3),(1188,90),(1189.7,89.2),(1191.3,90.4),(1193,91.3),(1194.7,92.1),(1196.3,92.1),(1198,92.5),(1199.7,92.5),(1201.3,91.7),(1203,91.3),(1204.7,91.7),(1206.3,90),(1208,90.4),(1209.7,89.6),(1211.3,88.8),(1213,87.1),(1214.7,86.3),(1216.3,85),(1218,83.3),(1219.7,80),(1221.3,80),(1223,80),(1224.7,79.6),(1226.3,75.8),(1228,77.5),(1229.7,77.1),(1231.3,75),(1233,73.3),(1234,71.3),(1235.3,73.8),(1236.3,75.4),(1238,76.3),(1239.7,77.5),(1241,77.9),
]

# ---------------- layout constants ----------------
W, H = 1343, 543
BORDER_L, BORDER_T = 11, 11
FRAME_W, FRAME_H = W - BORDER_L, H - BORDER_T
PX_PER_X = 1.0                             # one session per pixel
PX_PER_Y = 4.0                             # four pixels per index point
X0 = -91.0
X1 = X0 + FRAME_W / PX_PER_X
Y1 = 183.5
Y0 = Y1 - FRAME_H / PX_PER_Y
MONTH = 22.685                             # vertical grid spacing (sessions)

def px_to_x(px):
    return X0 + (px - BORDER_L) / PX_PER_X

def px_to_y(py):
    return Y1 - (py - BORDER_T) / PX_PER_Y

p = figure(width=W, height=H, x_range=Range1d(X0, X1), y_range=Range1d(Y0, Y1),
           x_axis_type=None, y_axis_type=None, toolbar_location=None,
           output_backend="svg", outline_line_color=None,
           background_fill_color="white", border_fill_color="white")
p.min_border = 0
p.min_border_left = BORDER_L
p.min_border_top = BORDER_T

minor_x = [k * MONTH for k in range(-4, 56)]
minor_y = [tick_values[0] + k * 25.0 / 3 for k in range(0, 17)]
p.add_layout(Grid(dimension=0, ticker=FixedTicker(ticks=minor_x),
                  grid_line_color="#e4e4e4", grid_line_width=1))
p.add_layout(Grid(dimension=1, ticker=FixedTicker(ticks=minor_y),
                  grid_line_color="#e4e4e4", grid_line_width=1))
p.add_layout(Grid(dimension=1, ticker=FixedTicker(ticks=tick_values),
                  grid_line_color="#555555", grid_line_width=1.3))

# vertical axis line at the base date
p.add_layout(Span(location=0, dimension="height", line_color="#000000", line_width=1.3))

for data, color in zip([san, ibex_fin, ibex35], series_colors):
    xs = [a for a, b in data]
    ys = [b for a, b in data]
    p.line(xs, ys, line_color=color, line_width=1.5)

# y tick labels, centred ~15px above each major line
for val, txt in zip(tick_values, tick_labels):
    p.add_layout(Label(x=px_to_x(41), y=val + 15 / PX_PER_Y, text=txt, text_align="right",
                       text_baseline="middle",
                       text_font="Roboto", text_font_size="20px", text_color="#333333"))

# legend
leg_line_px = [(162, 230), (352, 420), (662, 731)]
leg_text_px = [243, 432, 744]
leg_y = px_to_y(504)
p.segment(x0=[px_to_x(a) for a, b in leg_line_px], y0=[leg_y] * 3,
          x1=[px_to_x(b) for a, b in leg_line_px], y1=[leg_y] * 3,
          line_color=series_colors, line_width=2.5)
for name, tx in zip(series_names, leg_text_px):
    p.add_layout(Label(x=px_to_x(tx), y=px_to_y(504), text=name, text_align="left",
                       text_baseline="middle", text_font="Liberation Sans",
                       text_font_style="bold", text_font_size="23px", text_color="#000000"))

open("out.html", "w").write(file_html(p, INLINE))
